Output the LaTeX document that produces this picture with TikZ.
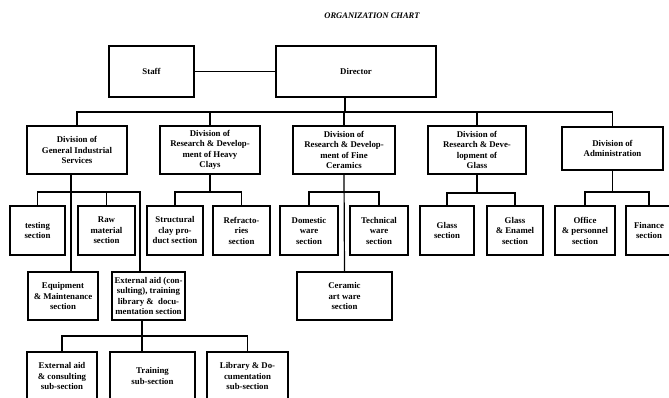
\documentclass[tikz,border=0pt]{standalone}
\usepackage{fontspec}
\setmainfont{Liberation Serif}
\begin{document}
\begin{tikzpicture}[x=1pt,y=-1pt,
  box/.style={draw, line width=1.3pt, inner sep=0pt, align=center,
    font=\bfseries\fontsize{8.8}{10.5}\selectfont},
  link/.style={line width=1.2pt}]
\useasboundingbox (0,0) rectangle (669,398);
\clip (0,0) rectangle (669,398);

% title
\node[font=\bfseries\itshape\fontsize{8.5}{10}\selectfont] (title) at (372,16) {ORGANIZATION CHART};

% top level
\node[box, minimum width=85pt, minimum height=51pt] (staff) at (151.5,71.5) {Staff};
\node[box, minimum width=160pt, minimum height=51pt] (director) at (356,71.5) {Director};

% divisions
\node[box, minimum width=100pt, minimum height=48pt] (div1) at (77,150) {Division of\\General Industrial\\Services};
\node[box, minimum width=100pt, minimum height=48pt] (div2) at (210,150) {Division of\\Research \& Develop-\\ment of Heavy\\Clays};
\node[box, minimum width=102pt, minimum height=48pt] (div3) at (344,150) {Division of\\Research \& Develop-\\ment of Fine\\Ceramics};
\node[box, minimum width=98pt, minimum height=48pt] (div4) at (477,150) {Division of\\Research \& Deve-\\lopment of\\Glass};
\node[box, minimum width=101pt, minimum height=43pt] (div5) at (612.5,148.5) {Division of\\Administration};

% sections
\node[box, minimum width=55pt, minimum height=49pt] (testing) at (37.5,230.5) {testing\\section};
\node[box, minimum width=57pt, minimum height=49pt] (raw) at (106.5,230.5) {Raw\\material\\section};
\node[box, minimum width=56pt, minimum height=49pt] (struct) at (175,230.5) {Structural\\clay pro-\\duct section};
\node[box, minimum width=57pt, minimum height=49pt] (refr) at (241.5,230.5) {Refracto-\\ries\\section};
\node[box, minimum width=58pt, minimum height=49pt] (domestic) at (309,230.5) {Domestic\\ware\\section};
\node[box, minimum width=58pt, minimum height=49pt] (technical) at (379,230.5) {Technical\\ware\\section};
\node[box, minimum width=54pt, minimum height=49pt] (glass) at (447,230.5) {Glass\\section};
\node[box, minimum width=56pt, minimum height=49pt] (enamel) at (515,230.5) {Glass\\\& Enamel\\section};
\node[box, minimum width=60pt, minimum height=49pt] (office) at (585,230.5) {Office\\\& personnel\\section};
\node[box, minimum width=46pt, minimum height=49pt] (finance) at (649,230.5) {Finance\\section};

\node[box, minimum width=70pt, minimum height=48pt] (equip) at (63,296) {Equipment\\\& Maintenance\\section};
\node[box, minimum width=73pt, minimum height=48pt] (extern) at (148.5,296) {External aid (con-\\sulting), training\\library \&\ \ docu-\\mentation section};
\node[box, minimum width=95pt, minimum height=48pt] (ceramic) at (344.5,296) {Ceramic\\art ware\\section};

% sub-sections
\node[box, minimum width=70pt, minimum height=48pt] (subext) at (62,376) {External aid\\\& consulting\\sub-section};
\node[box, minimum width=85pt, minimum height=48pt] (subtrain) at (152.5,376) {Training\\sub-section};
\node[box, minimum width=81pt, minimum height=48pt] (sublib) at (247.5,376) {Library \& Do-\\cumentation\\sub-section};

% junction points
\coordinate (bus) at (345,112);
\coordinate (j1) at (71,192);
\coordinate (j1r) at (140,192);
\coordinate (j2) at (210,192);
\coordinate (j3) at (344.5,192);
\coordinate (j4) at (477,193);
\coordinate (j5) at (613,192);
\coordinate (j6) at (142,336);

% connectors
\draw[link] (staff) -- (director);
\draw[link] (bus |- director.south) -- (bus);
\draw[link] (div1.north) |- (bus) -| (div5.north);
\draw[link] (div2.north) -- (div2.north |- bus);
\draw[link] (div3.north) -- (div3.north |- bus);
\draw[link] (div4.north) -- (div4.north |- bus);

\draw[link] (j1 |- div1.south) -- (j1 |- equip.north);
\draw[link] (testing.north) |- (j1r) -- (j1r |- extern.north);
\draw[link] (raw.north) -- (raw.north |- j1r);

\draw[link] (div2.south) -- (j2);
\draw[link] (struct.north) |- (j2) -| (refr.north);

\draw[link] (div3.south) -- (ceramic.north);
\draw[link] (domestic.north) |- (j3) -| (technical.north);

\draw[link] (div4.south) -- (j4);
\draw[link] (glass.north) |- (j4) -| (enamel.north);

\draw[link] (div5.south) -- (div5.south |- j5);
\draw[link] (office.north) |- (j5) -| (finance.north);

\draw[link] (j6 |- extern.south) -- (j6 |- subtrain.north);
\draw[link] (subext.north) |- (j6) -| (sublib.north);
\end{tikzpicture}
\end{document}
